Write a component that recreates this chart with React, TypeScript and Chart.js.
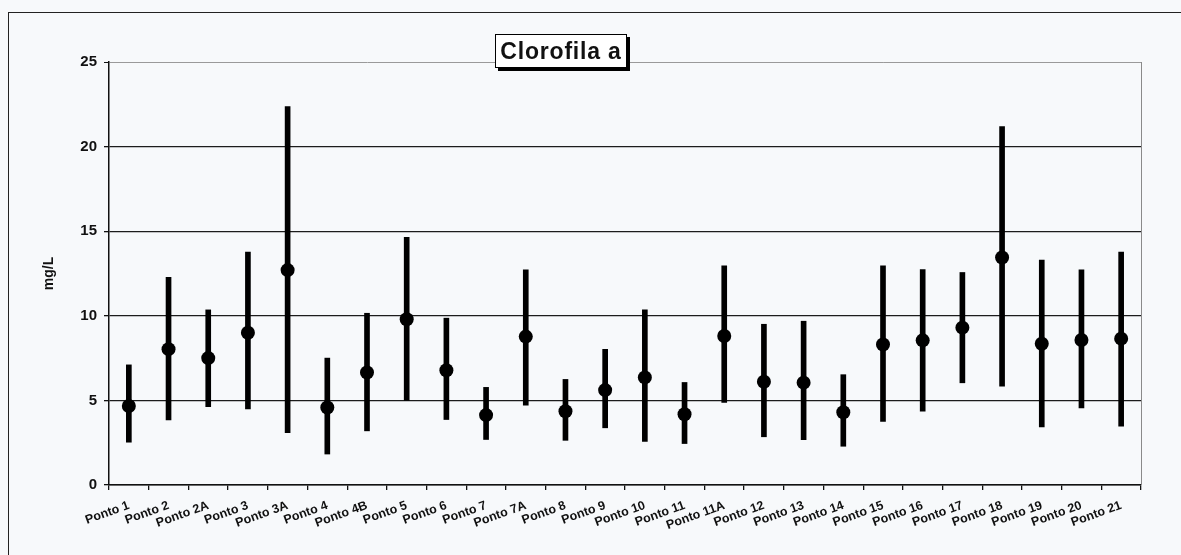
import React, { useEffect, useRef } from 'react';
import { Chart, registerables } from 'chart.js';

Chart.register(...registerables);

const CATEGORIES = [
  'Ponto 1', 'Ponto 2', 'Ponto 2A', 'Ponto 3', 'Ponto 3A', 'Ponto 4', 'Ponto 4B',
  'Ponto 5', 'Ponto 6', 'Ponto 7', 'Ponto 7A', 'Ponto 8', 'Ponto 9', 'Ponto 10',
  'Ponto 11', 'Ponto 11A', 'Ponto 12', 'Ponto 13', 'Ponto 14', 'Ponto 15', 'Ponto 16',
  'Ponto 17', 'Ponto 18', 'Ponto 19', 'Ponto 20', 'Ponto 21',
];

const MEAN = [
  4.67, 8.03, 7.5, 9.0, 12.7, 4.58, 6.65,
  9.8, 6.78, 4.13, 8.77, 4.36, 5.61, 6.36,
  4.18, 8.81, 6.1, 6.05, 4.3, 8.3, 8.55,
  9.3, 13.45, 8.35, 8.57, 8.65,
];

const MAX = [
  7.1, 12.28, 10.35, 13.77, 22.36, 7.5, 10.15,
  14.64, 9.86, 5.77, 12.72, 6.24, 8.02, 10.36,
  6.06, 12.95, 9.5, 9.68, 6.52, 12.95, 12.73,
  12.56, 21.18, 13.3, 12.72, 13.76,
];

const MIN = [
  2.53, 3.85, 4.63, 4.5, 3.1, 1.83, 3.2,
  5.0, 3.87, 2.69, 4.72, 2.64, 3.38, 2.58,
  2.45, 4.88, 2.85, 2.68, 2.29, 3.76, 4.36,
  6.04, 5.84, 3.43, 4.55, 3.47,
];

const Y_TICKS = [0, 5, 10, 15, 20, 25];
const TITLE = 'Clorofila a';
const Y_TITLE = 'mg/L';

const FONT = "'Liberation Sans', Arial, Helvetica, sans-serif";

export default function App() {
  const canvasRef = useRef<HTMLCanvasElement>(null);

  useEffect(() => {
    document.body.style.margin = '0';
    document.body.style.background = '#f7f9fb';
    const canvas = canvasRef.current;
    if (!canvas) return;

    const ranges = CATEGORIES.map((_, i) => [MIN[i], MAX[i]]);

    const rightBorder = {
      id: 'rightBorder',
      beforeDatasetsDraw(chart: any) {
        const { ctx, chartArea } = chart;
        ctx.save();
        ctx.strokeStyle = '#8a8a8a';
        ctx.lineWidth = 1;
        ctx.beginPath();
        ctx.moveTo(chartArea.right + 0.5, chartArea.top);
        ctx.lineTo(chartArea.right + 0.5, chartArea.bottom);
        ctx.stroke();
        ctx.restore();
      },
    };

    const chart = new Chart(canvas, {
      type: 'bar',
      data: {
        labels: CATEGORIES,
        datasets: [
          {
            type: 'bar',
            label: 'Intervalo',
            data: ranges as any,
            backgroundColor: '#000',
            borderWidth: 0,
            barThickness: 5,
            order: 2,
          },
          {
            type: 'line',
            label: 'Média',
            data: MEAN,
            showLine: false,
            pointRadius: 7,
            pointHoverRadius: 7,
            pointBackgroundColor: '#000',
            pointBorderColor: '#000',
            pointBorderWidth: 0,
            order: 1,
          } as any,
        ],
      },
      options: {
        animation: false,
        responsive: false,
        maintainAspectRatio: false,
        devicePixelRatio: 1,
        layout: { padding: { top: 62, right: 40, left: 0, bottom: 0 } },
        plugins: {
          legend: { display: false },
          tooltip: { enabled: false },
          title: { display: false },
        },
        scales: {
          x: {
            offset: true,
            grid: {
              offset: true,
              drawOnChartArea: false,
              drawTicks: true,
              tickLength: 5,
              color: '#111',
              lineWidth: 1.3,
            },
            border: { color: '#111', width: 1.5 },
            ticks: {
              autoSkip: false,
              maxRotation: 20,
              minRotation: 20,
              padding: 8,
              color: '#111',
              font: { family: FONT, size: 12.5, weight: 'bold' },
            },
            afterFit: (s: any) => {
              s.height = 70;
            },
          },
          y: {
            min: 0,
            max: 25,
            afterBuildTicks: (s: any) => {
              s.ticks = Y_TICKS.map((v) => ({ value: v }));
            },
            ticks: {
              padding: 7,
              color: '#111',
              font: { family: FONT, size: 15, weight: 'bold' },
            },
            grid: {
              color: (ctx: any) => (ctx.tick && ctx.tick.value === 25 ? '#9a9a9a' : '#1c1c1c'),
              lineWidth: (ctx: any) => (ctx.tick && ctx.tick.value === 25 ? 1 : 1.3),
              tickColor: '#111',
              tickLength: 5,
              drawTicks: true,
            },
            border: { color: '#111', width: 1.5 },
            title: {
              display: true,
              text: Y_TITLE,
              color: '#111',
              font: { family: FONT, size: 14, weight: 'bold' },
              padding: { top: 41, bottom: 0 },
            },
            afterFit: (s: any) => {
              s.width = 109;
            },
          },
        },
      },
      plugins: [rightBorder],
    });

    return () => chart.destroy();
  }, []);

  return (
    <div
      style={{
        position: 'relative',
        width: 1181,
        height: 555,
        overflow: 'hidden',
        background: '#f7f9fb',
      }}
    >
      <div
        style={{
          position: 'absolute',
          left: 8,
          top: 12,
          width: 1200,
          height: 600,
          border: '1.5px solid #222',
          boxSizing: 'border-box',
        }}
      />
      <canvas
        ref={canvasRef}
        width={1181}
        height={555}
        style={{ position: 'absolute', left: 0, top: 0, width: 1181, height: 555 }}
      />
      <div
        style={{
          position: 'absolute',
          left: 495,
          top: 34,
          width: 132,
          height: 34,
          border: '1px solid #000',
          boxShadow: '3px 3px 0 #000',
          background: '#fff',
          boxSizing: 'border-box',
          display: 'flex',
          alignItems: 'center',
          justifyContent: 'center',
          fontFamily: FONT,
          fontWeight: 'bold',
          fontSize: 23,
          letterSpacing: 0.8,
          color: '#111',
          whiteSpace: 'nowrap',
        }}
      >
        {TITLE}
      </div>
    </div>
  );
}
